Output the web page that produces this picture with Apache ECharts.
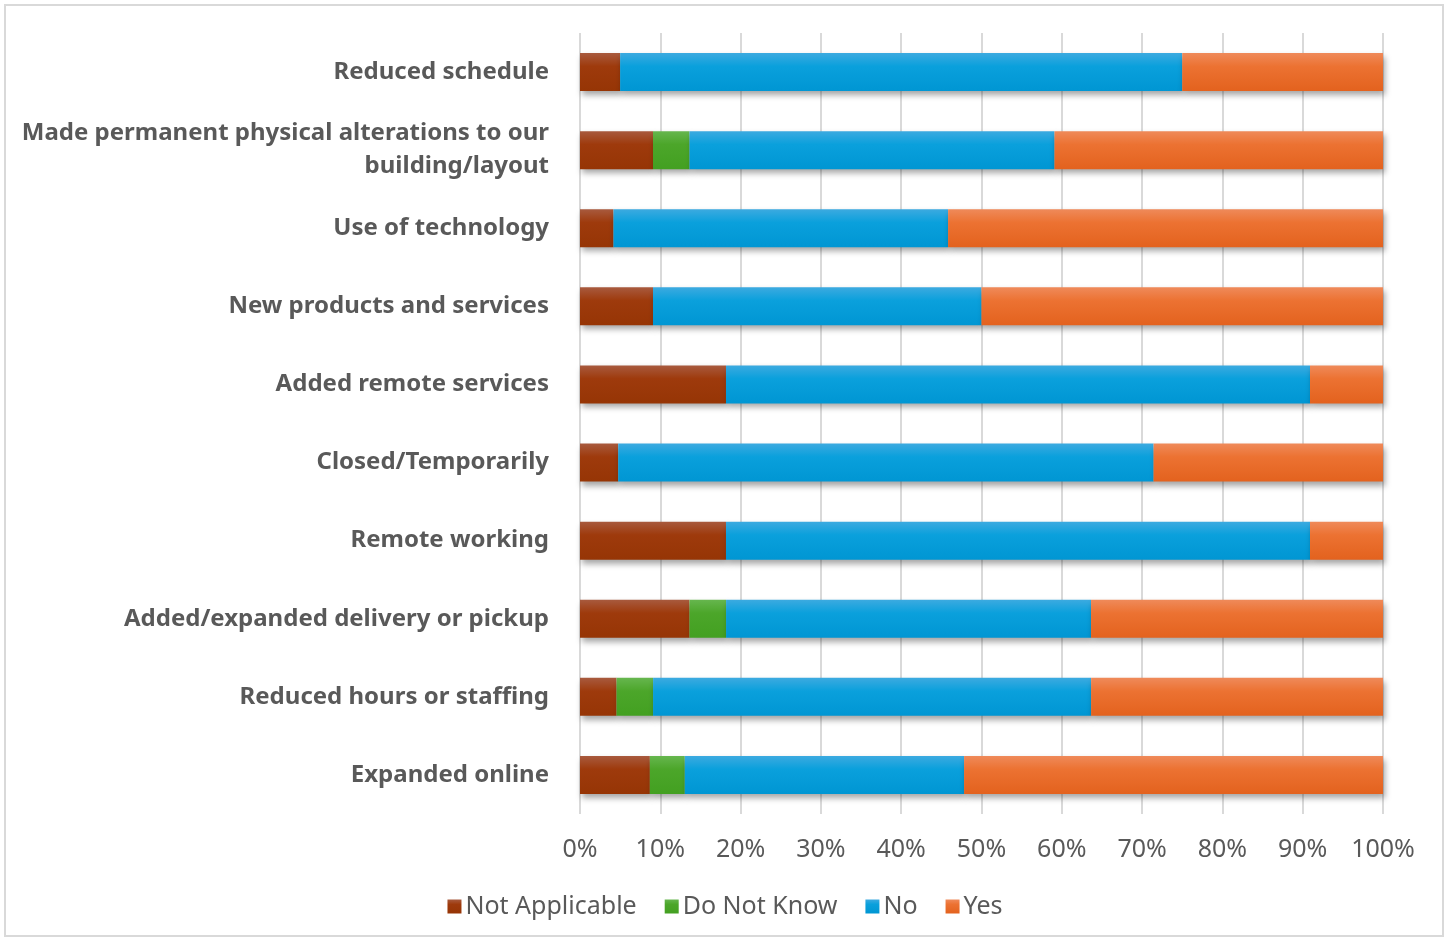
<!DOCTYPE html>
<html>
<head>
<meta charset="utf-8">
<style>
  html, body { margin: 0; padding: 0; background: #fff; }
  #frame { position: absolute; left: 4px; top: 4px; width: 1440px; height: 933px; border: 2px solid #d9d9d9; box-sizing: border-box; }
  #chart { position: absolute; left: 0; top: 0; width: 1450px; height: 940px; }
</style>
<script src="https://cdn.jsdelivr.net/npm/echarts@6/dist/echarts.min.js"></script>
</head>
<body>
<div id="frame"></div>
<div id="chart"></div>
<script>
// Survey responses per business change, shares in percent (top to bottom)
const categories = [
  'Reduced schedule',
  'Made permanent physical alterations to our\nbuilding/layout',
  'Use of technology',
  'New products and services',
  'Added remote services',
  'Closed/Temporarily',
  'Remote working',
  'Added/expanded delivery or pickup',
  'Reduced hours or staffing',
  'Expanded online'
];
const notApplicable = [5.0, 9.09, 4.17, 9.09, 18.18, 4.76, 18.18, 13.64, 4.55, 8.70];
const doNotKnow     = [0, 4.55, 0, 0, 0, 0, 0, 4.55, 4.55, 4.35];
const no            = [70.0, 45.45, 41.67, 40.91, 72.73, 66.67, 72.73, 45.45, 54.55, 34.78];
const yes           = [25.0, 40.91, 54.17, 50.0, 9.09, 28.57, 9.09, 36.36, 36.36, 52.17];
const tickLabels = ['0%', '10%', '20%', '30%', '40%', '50%', '60%', '70%', '80%', '90%', '100%'];

const FONT = '"Noto Sans", "Open Sans", sans-serif';
const TEXT = '#595959';

function grad(top, mid, bottom) {
  return new echarts.graphic.LinearGradient(0, 0, 0, 1, [
    { offset: 0, color: top },
    { offset: 0.35, color: mid },
    { offset: 1, color: bottom }
  ]);
}

function barSeries(name, data, top, mid, bottom) {
  return {
    name: name,
    type: 'bar',
    stack: 'total',
    data: data,
    barWidth: 38,
    itemStyle: {
      color: grad(top, mid, bottom),
      shadowColor: 'rgba(0,0,0,0.35)',
      shadowBlur: 6,
      shadowOffsetX: 2,
      shadowOffsetY: 4
    },
    emphasis: { disabled: true }
  };
}

const chart = echarts.init(document.getElementById('chart'), null, { renderer: 'canvas' });
chart.setOption({
  animation: false,
  backgroundColor: 'transparent',
  grid: { left: 580, right: 67, top: 33, bottom: 126, containLabel: false, outerBoundsMode: 'none' },
  legend: {
    top: 889,
    left: 'center',
    itemWidth: 14,
    itemHeight: 14,
    itemGap: 28,
    icon: 'rect',
    textStyle: { fontFamily: FONT, fontSize: 25, color: TEXT, padding: [0, 0, 0, -1] },
    data: ['Not Applicable', 'Do Not Know', 'No', 'Yes']
  },
  xAxis: {
    type: 'value',
    min: 0,
    max: 100,
    interval: 10,
    axisLine: { show: false },
    axisTick: { show: false },
    splitLine: { show: true, lineStyle: { color: '#d9d9d9', width: 2 } },
    axisLabel: {
      margin: 23,
      fontFamily: FONT,
      fontSize: 25,
      color: TEXT,
      formatter: function (v) { return tickLabels[Math.round(v / 10)]; }
    }
  },
  yAxis: {
    type: 'category',
    inverse: true,
    data: categories,
    axisLine: { show: false },
    axisTick: { show: false },
    axisLabel: {
      margin: 31,
      fontFamily: FONT,
      fontSize: 24,
      fontWeight: 'bold',
      color: TEXT,
      align: 'right',
      lineHeight: 33,
      padding: [3, 0, 0, 0]
    }
  },
  series: [
    barSeries('Not Applicable', notApplicable, '#a85a3e', '#9e3a0c', '#963505'),
    barSeries('Do Not Know', doNotKnow, '#66b64e', '#4ca62a', '#43a021'),
    barSeries('No', no, '#3caae0', '#0aa0dc', '#0096d3'),
    barSeries('Yes', yes, '#ef8a5a', '#ec7232', '#e3621e')
  ]
});
</script>
</body>
</html>
